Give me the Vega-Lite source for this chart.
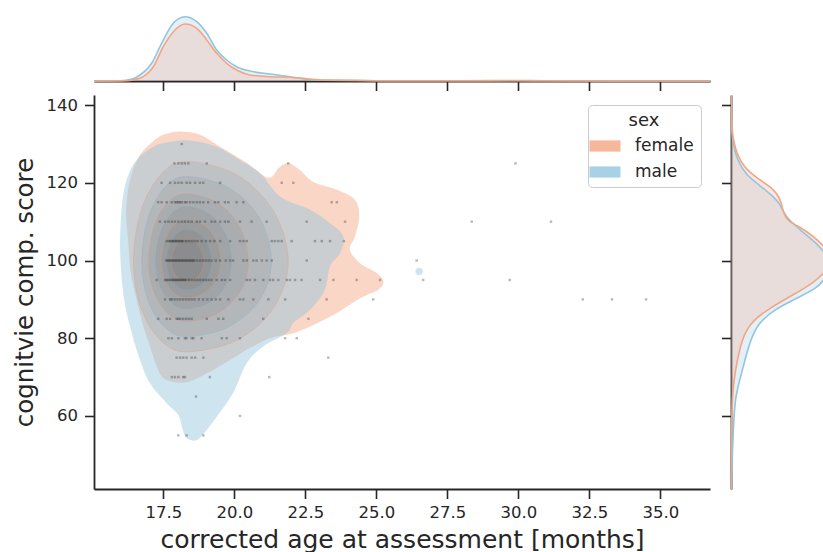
{
"$schema": "https://vega.github.io/schema/vega-lite/v6.json",
"padding": {"left": 12, "top": 11, "right": 0, "bottom": 0},
"config": {
 "font": "DejaVu Sans",
 "view": {"stroke": null},
 "axis": {"domainColor": "#262626", "domainWidth": 1.8, "tickColor": "#262626", "tickWidth": 1.6, "tickSize": 9.5, "labelColor": "#262626", "labelFontSize": 16.5, "labelPadding": 6, "titleColor": "#262626", "titleFontSize": 24.5, "titleFontWeight": "normal", "grid": false},
 "legend": {"titleFontSize": 18, "labelFontSize": 17, "titleFontWeight": "normal", "titleColor": "#262626", "labelColor": "#262626", "titleAnchor": "middle", "padding": 7, "strokeColor": "#cccccc", "fillColor": "rgba(255,255,255,0.8)", "cornerRadius": 4, "orient": "top-right", "offset": 9.5, "symbolType": "M-1.55,-0.56H1.55V0.56H-1.55Z", "symbolSize": 400, "symbolStrokeWidth": 0, "symbolOpacity": 0.8, "labelOffset": 20, "rowPadding": 8, "titlePadding": 6}
},
"datasets": {
 "outer": [
  {"sex":"female","i":1,"age":18.09,"score":133.2},{"sex":"female","i":2,"age":18.79,"score":132.4},{"sex":"female","i":3,"age":19.5,"score":129.3},{"sex":"female","i":4,"age":20.38,"score":125.4},{"sex":"female","i":5,"age":21.19,"score":121.3},{"sex":"female","i":6,"age":21.57,"score":123.9},{"sex":"female","i":7,"age":21.89,"score":125.1},{"sex":"female","i":8,"age":22.31,"score":123.3},{"sex":"female","i":9,"age":22.77,"score":120.3},{"sex":"female","i":10,"age":23.61,"score":118.2},{"sex":"female","i":11,"age":24.25,"score":115.6},{"sex":"female","i":12,"age":24.4,"score":111.3},{"sex":"female","i":13,"age":24.25,"score":106.2},{"sex":"female","i":14,"age":24.07,"score":102.8},{"sex":"female","i":15,"age":24.43,"score":99.3},{"sex":"female","i":16,"age":25.01,"score":96.8},{"sex":"female","i":17,"age":25.25,"score":94.6},{"sex":"female","i":18,"age":25.07,"score":92.5},{"sex":"female","i":19,"age":24.43,"score":90.3},{"sex":"female","i":20,"age":23.61,"score":86.5},{"sex":"female","i":21,"age":22.67,"score":83.0},{"sex":"female","i":22,"age":22.08,"score":81.3},{"sex":"female","i":23,"age":21.26,"score":80.0},{"sex":"female","i":24,"age":20.55,"score":77.5},{"sex":"female","i":25,"age":19.85,"score":74.4},{"sex":"female","i":26,"age":19.14,"score":71.4},{"sex":"female","i":27,"age":18.44,"score":68.9},{"sex":"female","i":28,"age":17.97,"score":68.6},{"sex":"female","i":29,"age":17.5,"score":69.7},{"sex":"female","i":30,"age":17.27,"score":72.7},{"sex":"female","i":31,"age":17.03,"score":77.9},{"sex":"female","i":32,"age":16.8,"score":83.0},{"sex":"female","i":33,"age":16.56,"score":89.9},{"sex":"female","i":34,"age":16.35,"score":97.0},{"sex":"female","i":35,"age":16.26,"score":105.3},{"sex":"female","i":36,"age":16.19,"score":113.0},{"sex":"female","i":37,"age":16.33,"score":120.8},{"sex":"female","i":38,"age":16.68,"score":127.2},{"sex":"female","i":39,"age":17.21,"score":131.1},{"sex":"female","i":40,"age":17.6,"score":132.6},
  {"sex":"male","i":1,"age":18.44,"score":130.9},{"sex":"male","i":2,"age":19.38,"score":129.3},{"sex":"male","i":3,"age":20.2,"score":125.9},{"sex":"male","i":4,"age":20.91,"score":122.5},{"sex":"male","i":5,"age":21.61,"score":116.5},{"sex":"male","i":6,"age":22.67,"score":113.1},{"sex":"male","i":7,"age":23.38,"score":109.6},{"sex":"male","i":8,"age":23.84,"score":106.2},{"sex":"male","i":9,"age":23.72,"score":101.9},{"sex":"male","i":10,"age":23.37,"score":98.5},{"sex":"male","i":11,"age":23.19,"score":92.5},{"sex":"male","i":12,"age":22.67,"score":87.3},{"sex":"male","i":13,"age":22.08,"score":83.9},{"sex":"male","i":14,"age":21.85,"score":81.3},{"sex":"male","i":15,"age":21.02,"score":77.9},{"sex":"male","i":16,"age":20.44,"score":73.6},{"sex":"male","i":17,"age":19.96,"score":65.9},{"sex":"male","i":18,"age":19.38,"score":59.8},{"sex":"male","i":19,"age":19.03,"score":56.4},{"sex":"male","i":20,"age":18.68,"score":53.8},{"sex":"male","i":21,"age":18.32,"score":54.3},{"sex":"male","i":22,"age":18.15,"score":57.3},{"sex":"male","i":23,"age":18.03,"score":60.3},{"sex":"male","i":24,"age":17.62,"score":63.3},{"sex":"male","i":25,"age":17.03,"score":68.4},{"sex":"male","i":26,"age":16.68,"score":74.4},{"sex":"male","i":27,"age":16.33,"score":83.0},{"sex":"male","i":28,"age":16.09,"score":91.6},{"sex":"male","i":29,"age":15.98,"score":102.8},{"sex":"male","i":30,"age":16.04,"score":113.9},{"sex":"male","i":31,"age":16.21,"score":120.8},{"sex":"male","i":32,"age":16.56,"score":125.9},{"sex":"male","i":33,"age":17.15,"score":129.3},{"sex":"male","i":34,"age":17.74,"score":130.6}
 ],
 "inner": [
  {"sex":"female","lvl":1,"i":0,"age":21.9,"score":99.7},{"sex":"female","lvl":1,"i":1,"age":21.4,"score":112.5},{"sex":"female","lvl":1,"i":2,"age":20.1,"score":122.0},{"sex":"female","lvl":1,"i":3,"age":18.32,"score":125.5},{"sex":"female","lvl":1,"i":4,"age":17.4,"score":122.0},{"sex":"female","lvl":1,"i":5,"age":16.7,"score":112.5},{"sex":"female","lvl":1,"i":6,"age":16.45,"score":99.7},{"sex":"female","lvl":1,"i":7,"age":16.7,"score":88.0},{"sex":"female","lvl":1,"i":8,"age":17.4,"score":79.5},{"sex":"female","lvl":1,"i":9,"age":18.32,"score":76.5},{"sex":"female","lvl":1,"i":10,"age":20.1,"score":79.5},{"sex":"female","lvl":1,"i":11,"age":21.4,"score":88.0},
  {"sex":"male","lvl":2,"i":0,"age":21.31,"score":99.7},{"sex":"male","lvl":2,"i":1,"age":20.91,"score":110.65},{"sex":"male","lvl":2,"i":2,"age":19.82,"score":118.67},{"sex":"male","lvl":2,"i":3,"age":18.32,"score":121.6},{"sex":"male","lvl":2,"i":4,"age":17.53,"score":118.67},{"sex":"male","lvl":2,"i":5,"age":16.95,"score":110.65},{"sex":"male","lvl":2,"i":6,"age":16.74,"score":99.7},{"sex":"male","lvl":2,"i":7,"age":16.95,"score":90.05},{"sex":"male","lvl":2,"i":8,"age":17.53,"score":82.99},{"sex":"male","lvl":2,"i":9,"age":18.32,"score":80.4},{"sex":"male","lvl":2,"i":10,"age":19.82,"score":82.99},{"sex":"male","lvl":2,"i":11,"age":20.91,"score":90.05},
  {"sex":"female","lvl":3,"i":0,"age":20.5,"score":99.7},{"sex":"female","lvl":3,"i":1,"age":20.21,"score":108.45},{"sex":"female","lvl":3,"i":2,"age":19.41,"score":114.86},{"sex":"female","lvl":3,"i":3,"age":18.32,"score":117.2},{"sex":"female","lvl":3,"i":4,"age":17.65,"score":114.86},{"sex":"female","lvl":3,"i":5,"age":17.16,"score":108.45},{"sex":"female","lvl":3,"i":6,"age":16.98,"score":99.7},{"sex":"female","lvl":3,"i":7,"age":17.16,"score":92.0},{"sex":"female","lvl":3,"i":8,"age":17.65,"score":86.36},{"sex":"female","lvl":3,"i":9,"age":18.32,"score":84.3},{"sex":"female","lvl":3,"i":10,"age":19.41,"score":86.36},{"sex":"female","lvl":3,"i":11,"age":20.21,"score":92.0},
  {"sex":"male","lvl":4,"i":0,"age":19.9,"score":99.7},{"sex":"male","lvl":4,"i":1,"age":19.69,"score":106.8},{"sex":"male","lvl":4,"i":2,"age":19.11,"score":112.0},{"sex":"male","lvl":4,"i":3,"age":18.32,"score":113.9},{"sex":"male","lvl":4,"i":4,"age":17.78,"score":112.0},{"sex":"male","lvl":4,"i":5,"age":17.38,"score":106.8},{"sex":"male","lvl":4,"i":6,"age":17.23,"score":99.7},{"sex":"male","lvl":4,"i":7,"age":17.38,"score":93.65},{"sex":"male","lvl":4,"i":8,"age":17.78,"score":89.22},{"sex":"male","lvl":4,"i":9,"age":18.32,"score":87.6},{"sex":"male","lvl":4,"i":10,"age":19.11,"score":89.22},{"sex":"male","lvl":4,"i":11,"age":19.69,"score":93.65},
  {"sex":"female","lvl":5,"i":0,"age":19.52,"score":99.7},{"sex":"female","lvl":5,"i":1,"age":19.36,"score":105.1},{"sex":"female","lvl":5,"i":2,"age":18.92,"score":109.05},{"sex":"female","lvl":5,"i":3,"age":18.32,"score":110.5},{"sex":"female","lvl":5,"i":4,"age":17.88,"score":109.05},{"sex":"female","lvl":5,"i":5,"age":17.56,"score":105.1},{"sex":"female","lvl":5,"i":6,"age":17.44,"score":99.7},{"sex":"female","lvl":5,"i":7,"age":17.56,"score":95.05},{"sex":"female","lvl":5,"i":8,"age":17.88,"score":91.65},{"sex":"female","lvl":5,"i":9,"age":18.32,"score":90.4},{"sex":"female","lvl":5,"i":10,"age":18.92,"score":91.65},{"sex":"female","lvl":5,"i":11,"age":19.36,"score":95.05},
  {"sex":"male","lvl":6,"i":0,"age":19.2,"score":99.7},{"sex":"male","lvl":6,"i":1,"age":19.08,"score":103.8},{"sex":"male","lvl":6,"i":2,"age":18.76,"score":106.8},{"sex":"male","lvl":6,"i":3,"age":18.32,"score":107.9},{"sex":"male","lvl":6,"i":4,"age":17.97,"score":106.8},{"sex":"male","lvl":6,"i":5,"age":17.71,"score":103.8},{"sex":"male","lvl":6,"i":6,"age":17.62,"score":99.7},{"sex":"male","lvl":6,"i":7,"age":17.71,"score":96.1},{"sex":"male","lvl":6,"i":8,"age":17.97,"score":93.46},{"sex":"male","lvl":6,"i":9,"age":18.32,"score":92.5},{"sex":"male","lvl":6,"i":10,"age":18.76,"score":93.46},{"sex":"male","lvl":6,"i":11,"age":19.08,"score":96.1},
  {"sex":"female","lvl":7,"i":0,"age":18.92,"score":99.7},{"sex":"female","lvl":7,"i":1,"age":18.84,"score":102.55},{"sex":"female","lvl":7,"i":2,"age":18.62,"score":104.64},{"sex":"female","lvl":7,"i":3,"age":18.32,"score":105.4},{"sex":"female","lvl":7,"i":4,"age":18.06,"score":104.64},{"sex":"female","lvl":7,"i":5,"age":17.86,"score":102.55},{"sex":"female","lvl":7,"i":6,"age":17.79,"score":99.7},{"sex":"female","lvl":7,"i":7,"age":17.86,"score":97.15},{"sex":"female","lvl":7,"i":8,"age":18.06,"score":95.28},{"sex":"female","lvl":7,"i":9,"age":18.32,"score":94.6},{"sex":"female","lvl":7,"i":10,"age":18.62,"score":95.28},{"sex":"female","lvl":7,"i":11,"age":18.84,"score":97.15}
 ],
 "pts": [
  {"age":18.15,"score":130},
  {"age":17.89,"score":125},{"age":18.03,"score":125},{"age":18.15,"score":125},{"age":18.26,"score":125},{"age":18.38,"score":125},{"age":19.03,"score":125},{"age":21.9,"score":125},{"age":29.9,"score":125},
  {"age":17.44,"score":120},{"age":17.74,"score":120},{"age":17.91,"score":120},{"age":18.03,"score":120},{"age":18.15,"score":120},{"age":18.32,"score":120},{"age":18.44,"score":120},{"age":18.62,"score":120},{"age":18.79,"score":120},{"age":18.91,"score":120},{"age":19.5,"score":120},{"age":21.67,"score":120},{"age":22.08,"score":120},
  {"age":17.32,"score":115},{"age":17.44,"score":115},{"age":17.62,"score":115},{"age":17.8,"score":115},{"age":17.91,"score":115},{"age":17.97,"score":115},{"age":18.03,"score":115},{"age":18.09,"score":115},{"age":18.15,"score":115},{"age":18.26,"score":115},{"age":18.32,"score":115},{"age":18.44,"score":115},{"age":18.56,"score":115},{"age":18.68,"score":115},{"age":18.79,"score":115},{"age":18.91,"score":115},{"age":19.08,"score":115},{"age":19.32,"score":115},{"age":19.44,"score":115},{"age":19.67,"score":115},{"age":19.79,"score":115},{"age":20.08,"score":115},{"age":20.32,"score":115},{"age":23.43,"score":115},{"age":23.61,"score":115},
  {"age":17.38,"score":110},{"age":17.56,"score":110},{"age":17.68,"score":110},{"age":17.8,"score":110},{"age":17.91,"score":110},{"age":18.03,"score":110},{"age":18.15,"score":110},{"age":18.26,"score":110},{"age":18.38,"score":110},{"age":18.5,"score":110},{"age":18.68,"score":110},{"age":18.79,"score":110},{"age":18.97,"score":110},{"age":19.2,"score":110},{"age":19.32,"score":110},{"age":19.5,"score":110},{"age":19.67,"score":110},{"age":19.79,"score":110},{"age":20.2,"score":110},{"age":20.61,"score":110},{"age":21.14,"score":110},{"age":22.55,"score":110},{"age":23.9,"score":110},{"age":28.36,"score":110},{"age":31.15,"score":110},
  {"age":17.62,"score":105},{"age":17.7,"score":105},{"age":17.75,"score":105},{"age":17.8,"score":105},{"age":17.85,"score":105},{"age":17.9,"score":105},{"age":17.95,"score":105},{"age":18.0,"score":105},{"age":18.05,"score":105},{"age":18.1,"score":105},{"age":18.15,"score":105},{"age":18.2,"score":105},{"age":18.3,"score":105},{"age":18.4,"score":105},{"age":18.5,"score":105},{"age":18.6,"score":105},{"age":18.7,"score":105},{"age":18.85,"score":105},{"age":19.0,"score":105},{"age":19.15,"score":105},{"age":19.3,"score":105},{"age":19.5,"score":105},{"age":19.85,"score":105},{"age":20.2,"score":105},{"age":20.32,"score":105},{"age":20.44,"score":105},{"age":21.32,"score":105},{"age":21.43,"score":105},{"age":21.55,"score":105},{"age":21.67,"score":105},{"age":22.02,"score":105},{"age":22.84,"score":105},{"age":23.08,"score":105},{"age":23.37,"score":105},{"age":23.86,"score":105},
  {"age":17.6,"score":100},{"age":17.65,"score":100},{"age":17.7,"score":100},{"age":17.75,"score":100},{"age":17.8,"score":100},{"age":17.85,"score":100},{"age":17.9,"score":100},{"age":17.95,"score":100},{"age":18.0,"score":100},{"age":18.05,"score":100},{"age":18.1,"score":100},{"age":18.15,"score":100},{"age":18.2,"score":100},{"age":18.25,"score":100},{"age":18.3,"score":100},{"age":18.35,"score":100},{"age":18.4,"score":100},{"age":18.45,"score":100},{"age":18.5,"score":100},{"age":18.55,"score":100},{"age":18.6,"score":100},{"age":18.7,"score":100},{"age":18.8,"score":100},{"age":18.9,"score":100},{"age":19.0,"score":100},{"age":19.1,"score":100},{"age":19.2,"score":100},{"age":19.35,"score":100},{"age":19.5,"score":100},{"age":19.7,"score":100},{"age":19.85,"score":100},{"age":19.96,"score":100},{"age":20.32,"score":100},{"age":20.44,"score":100},{"age":20.67,"score":100},{"age":20.79,"score":100},{"age":20.97,"score":100},{"age":21.14,"score":100},{"age":21.32,"score":100},{"age":22.55,"score":100},{"age":26.42,"score":100},
  {"age":17.27,"score":95},{"age":17.56,"score":95},{"age":17.62,"score":95},{"age":17.68,"score":95},{"age":17.74,"score":95},{"age":17.8,"score":95},{"age":17.85,"score":95},{"age":17.9,"score":95},{"age":17.95,"score":95},{"age":18.0,"score":95},{"age":18.05,"score":95},{"age":18.1,"score":95},{"age":18.15,"score":95},{"age":18.2,"score":95},{"age":18.25,"score":95},{"age":18.3,"score":95},{"age":18.4,"score":95},{"age":18.5,"score":95},{"age":18.6,"score":95},{"age":18.7,"score":95},{"age":18.8,"score":95},{"age":18.9,"score":95},{"age":19.0,"score":95},{"age":19.1,"score":95},{"age":19.2,"score":95},{"age":19.38,"score":95},{"age":19.56,"score":95},{"age":19.67,"score":95},{"age":19.85,"score":95},{"age":20.44,"score":95},{"age":20.55,"score":95},{"age":20.73,"score":95},{"age":21.02,"score":95},{"age":21.26,"score":95},{"age":21.37,"score":95},{"age":21.55,"score":95},{"age":21.85,"score":95},{"age":21.96,"score":95},{"age":22.14,"score":95},{"age":22.37,"score":95},{"age":23.02,"score":95},{"age":23.49,"score":95},{"age":24.31,"score":95},{"age":25.13,"score":95},{"age":26.65,"score":95},{"age":29.7,"score":95},
  {"age":17.56,"score":90},{"age":17.74,"score":90},{"age":17.8,"score":90},{"age":17.9,"score":90},{"age":18.0,"score":90},{"age":18.1,"score":90},{"age":18.2,"score":90},{"age":18.3,"score":90},{"age":18.4,"score":90},{"age":18.5,"score":90},{"age":18.6,"score":90},{"age":18.75,"score":90},{"age":18.9,"score":90},{"age":19.05,"score":90},{"age":19.2,"score":90},{"age":19.35,"score":90},{"age":19.5,"score":90},{"age":19.79,"score":90},{"age":20.2,"score":90},{"age":20.32,"score":90},{"age":20.67,"score":90},{"age":21.2,"score":90},{"age":21.79,"score":90},{"age":23.25,"score":90},{"age":24.89,"score":90},{"age":32.27,"score":90},{"age":33.3,"score":90},{"age":34.5,"score":90},
  {"age":17.32,"score":85},{"age":17.62,"score":85},{"age":17.74,"score":85},{"age":17.97,"score":85},{"age":18.03,"score":85},{"age":18.1,"score":85},{"age":18.2,"score":85},{"age":18.3,"score":85},{"age":18.4,"score":85},{"age":18.5,"score":85},{"age":19.03,"score":85},{"age":19.44,"score":85},{"age":19.61,"score":85},{"age":21.02,"score":85},{"age":22.61,"score":85},
  {"age":17.68,"score":80},{"age":17.8,"score":80},{"age":18.03,"score":80},{"age":18.26,"score":80},{"age":18.32,"score":80},{"age":18.5,"score":80},{"age":18.56,"score":80},{"age":18.85,"score":80},{"age":19.56,"score":80},{"age":19.73,"score":80},{"age":20.2,"score":80},{"age":21.79,"score":80},{"age":22.2,"score":80},
  {"age":17.97,"score":75},{"age":18.09,"score":75},{"age":18.2,"score":75},{"age":18.32,"score":75},{"age":18.5,"score":75},{"age":18.62,"score":75},{"age":18.91,"score":75},{"age":23.31,"score":75},
  {"age":17.8,"score":70},{"age":17.91,"score":70},{"age":18.03,"score":70},{"age":18.2,"score":70},{"age":18.26,"score":70},{"age":19.14,"score":70},{"age":21.23,"score":70},
  {"age":18.65,"score":65},{"age":20.2,"score":60},
  {"age":18.03,"score":55},{"age":18.32,"score":55},{"age":18.91,"score":55}
 ],
 "topkde": [
  {"sex":"male","age":15.06,"dens":0},{"sex":"male","age":15.98,"dens":0.2},{"sex":"male","age":16.4,"dens":2},{"sex":"male","age":16.68,"dens":6},{"sex":"male","age":17.09,"dens":17.7},{"sex":"male","age":17.44,"dens":37.7},{"sex":"male","age":17.85,"dens":57.7},{"sex":"male","age":18.26,"dens":64.3},{"sex":"male","age":18.68,"dens":59.3},{"sex":"male","age":19.03,"dens":47.7},{"sex":"male","age":19.38,"dens":31},{"sex":"male","age":19.73,"dens":21},{"sex":"male","age":20.08,"dens":14.3},{"sex":"male","age":20.55,"dens":10},{"sex":"male","age":21.26,"dens":7},{"sex":"male","age":21.96,"dens":4.3},{"sex":"male","age":22.55,"dens":1.7},{"sex":"male","age":23.13,"dens":0.7},{"sex":"male","age":25,"dens":0.3},{"sex":"male","age":30,"dens":0.2},{"sex":"male","age":36.75,"dens":0},
  {"sex":"female","age":15.06,"dens":0},{"sex":"female","age":16.21,"dens":0.2},{"sex":"female","age":16.5,"dens":1.5},{"sex":"female","age":16.8,"dens":4.3},{"sex":"female","age":17.15,"dens":14.3},{"sex":"female","age":17.5,"dens":34.3},{"sex":"female","age":17.91,"dens":51},{"sex":"female","age":18.26,"dens":57},{"sex":"female","age":18.68,"dens":52.7},{"sex":"female","age":19.03,"dens":41},{"sex":"female","age":19.38,"dens":27.7},{"sex":"female","age":19.73,"dens":17.7},{"sex":"female","age":20.08,"dens":11},{"sex":"female","age":20.55,"dens":6},{"sex":"female","age":21.26,"dens":4.3},{"sex":"female","age":21.96,"dens":3.7},{"sex":"female","age":22.55,"dens":2.3},{"sex":"female","age":23.13,"dens":1},{"sex":"female","age":24.3,"dens":0.7},{"sex":"female","age":25.25,"dens":0.3},{"sex":"female","age":28,"dens":0.2},{"sex":"female","age":29.9,"dens":0.5},{"sex":"female","age":31,"dens":0.2},{"sex":"female","age":36.75,"dens":0}
 ],
 "rightkde": [
  {"sex":"female","score":41.2,"dens":0},{"sex":"female","score":52.1,"dens":0.2},{"sex":"female","score":60.7,"dens":0.7},{"sex":"female","score":68.4,"dens":2.3},{"sex":"female","score":73.6,"dens":5.7},{"sex":"female","score":79.6,"dens":10.7},{"sex":"female","score":83.9,"dens":19},{"sex":"female","score":87.3,"dens":35.7},{"sex":"female","score":91.2,"dens":62.3},{"sex":"female","score":94.2,"dens":82.3},{"sex":"female","score":97.2,"dens":95},{"sex":"female","score":100,"dens":101},{"sex":"female","score":103.6,"dens":94},{"sex":"female","score":106.2,"dens":82.3},{"sex":"female","score":108.7,"dens":69},{"sex":"female","score":110,"dens":57},{"sex":"female","score":112.2,"dens":52.3},{"sex":"female","score":115.6,"dens":50},{"sex":"female","score":118.6,"dens":42.3},{"sex":"female","score":121.2,"dens":25.7},{"sex":"female","score":124.2,"dens":12.3},{"sex":"female","score":127.6,"dens":5.7},{"sex":"female","score":131,"dens":2.3},{"sex":"female","score":135,"dens":0.5},{"sex":"female","score":142.6,"dens":0},
  {"sex":"male","score":41.2,"dens":0.2},{"sex":"male","score":47.8,"dens":1},{"sex":"male","score":56.4,"dens":2.3},{"sex":"male","score":65,"dens":4},{"sex":"male","score":71,"dens":10.7},{"sex":"male","score":77.9,"dens":17.3},{"sex":"male","score":83.5,"dens":25.7},{"sex":"male","score":87.3,"dens":42.3},{"sex":"male","score":90.7,"dens":69},{"sex":"male","score":92.9,"dens":85.7},{"sex":"male","score":95,"dens":93},{"sex":"male","score":98,"dens":100},{"sex":"male","score":101,"dens":97},{"sex":"male","score":104.5,"dens":85.7},{"sex":"male","score":107.9,"dens":69},{"sex":"male","score":111.3,"dens":54},{"sex":"male","score":114.8,"dens":49},{"sex":"male","score":117,"dens":40},{"sex":"male","score":119.5,"dens":28},{"sex":"male","score":122,"dens":15},{"sex":"male","score":126,"dens":6},{"sex":"male","score":130,"dens":2},{"sex":"male","score":134,"dens":0.5},{"sex":"male","score":142.6,"dens":0}
 ]
},
"spacing": 14,
"bounds": "flush",
"resolve": {"scale": {"fill": "independent", "stroke": "independent"}, "legend": {"fill": "independent", "stroke": "independent"}},
"vconcat": [
 {
  "width": 616, "height": 70,
  "data": {"name": "topkde"},
  "encoding": {
   "x": {"field": "age", "type": "quantitative", "scale": {"domain": [15.06, 36.75], "nice": false, "zero": false}, "axis": {"values": [17.5, 20, 22.5, 25, 27.5, 30, 32.5, 35], "labels": false, "title": null}},
   "y": {"field": "dens", "type": "quantitative", "scale": {"domain": [0, 70]}, "axis": null}
  },
  "layer": [
   {"transform": [{"filter": "datum.sex === 'male'"}], "mark": {"type": "area", "fill": "#92c5de", "fillOpacity": 0.25, "interpolate": "monotone"}},
   {"transform": [{"filter": "datum.sex === 'female'"}], "mark": {"type": "area", "fill": "#f4a582", "fillOpacity": 0.25, "interpolate": "monotone"}},
   {"transform": [{"filter": "datum.sex === 'male'"}], "mark": {"type": "line", "stroke": "#92c5de", "strokeWidth": 1.6, "interpolate": "monotone"}},
   {"transform": [{"filter": "datum.sex === 'female'"}], "mark": {"type": "line", "stroke": "#f4a582", "strokeWidth": 1.6, "interpolate": "monotone"}}
  ]
 },
 {
  "spacing": 21,
  "bounds": "flush",
  "resolve": {"scale": {"fill": "independent", "stroke": "independent"}, "legend": {"fill": "independent", "stroke": "independent"}},
  "hconcat": [
   {
    "width": 616, "height": 394,
    "encoding": {
     "x": {"field": "age", "type": "quantitative", "scale": {"domain": [15.06, 36.75], "nice": false, "zero": false}, "axis": {"values": [17.5, 20, 22.5, 25, 27.5, 30, 32.5, 35], "format": ".1f", "title": "corrected age at assessment [months]", "titlePadding": 6, "titleFontSize": 25}},
     "y": {"field": "score", "type": "quantitative", "scale": {"domain": [41.2, 142.6], "nice": false, "zero": false}, "axis": {"values": [60, 80, 100, 120, 140], "title": "cognitvie comp. score", "titlePadding": 9, "labelPadding": 7}}
    },
    "layer": [
     {"data": {"name": "outer"}, "transform": [{"filter": "datum.sex === 'female'"}],
      "mark": {"type": "line", "interpolate": "cardinal-closed", "fillOpacity": 0.45, "strokeOpacity": 0},
      "encoding": {"order": {"field": "i", "type": "quantitative"},
       "fill": {"field": "sex", "type": "nominal", "scale": {"domain": ["female", "male"], "range": ["#f4a582", "#92c5de"]},
        "legend": {"encode": {"symbols": {"update": {"fill": {"scale": "fill", "field": "value"}, "stroke": {"value": "transparent"}, "strokeWidth": {"value": 0}, "opacity": {"value": 0.8}, "fillOpacity": {"value": 1}}}}}}}},
     {"data": {"name": "outer"}, "transform": [{"filter": "datum.sex === 'male'"}],
      "mark": {"type": "line", "interpolate": "cardinal-closed", "fillOpacity": 0.45, "strokeOpacity": 0},
      "encoding": {"order": {"field": "i", "type": "quantitative"}, "fill": {"field": "sex", "type": "nominal"}}},
     {"data": {"name": "inner"},
      "mark": {"type": "line", "interpolate": "cardinal-closed", "fill": "#3a3530", "fillOpacity": 0.075, "strokeWidth": 0.7, "strokeOpacity": 0.4},
      "encoding": {"order": {"field": "i", "type": "quantitative"}, "detail": {"field": "lvl", "type": "nominal"},
       "stroke": {"field": "sex", "type": "nominal", "scale": {"domain": ["female", "male"], "range": ["#e8906a", "#6aaed0"]}, "legend": null}}},
     {"data": {"values": [{"age": 26.51, "score": 97.2}]},
      "mark": {"type": "circle", "size": 55, "color": "#92c5de", "opacity": 0.45}},
     {"data": {"name": "pts"},
      "mark": {"type": "square", "size": 6, "color": "#1a1a1a", "opacity": 0.3}}
    ]
   },
   {
    "width": 92, "height": 394,
    "data": {"name": "rightkde"},
    "encoding": {
     "y": {"field": "score", "type": "quantitative", "scale": {"domain": [41.2, 142.6], "nice": false, "zero": false}, "axis": {"values": [60, 80, 100, 120, 140], "labels": false, "title": null}},
     "x": {"field": "dens", "type": "quantitative", "scale": {"domain": [0, 92]}, "axis": null}
    },
    "layer": [
     {"transform": [{"filter": "datum.sex === 'male'"}], "mark": {"type": "area", "orient": "horizontal", "fill": "#92c5de", "fillOpacity": 0.25, "interpolate": "basis", "clip": true}},
     {"transform": [{"filter": "datum.sex === 'female'"}], "mark": {"type": "area", "orient": "horizontal", "fill": "#f4a582", "fillOpacity": 0.25, "interpolate": "basis", "clip": true}},
     {"transform": [{"filter": "datum.sex === 'male'"}], "mark": {"type": "line", "stroke": "#92c5de", "strokeWidth": 1.6, "interpolate": "basis", "clip": true}, "encoding": {"order": {"field": "score", "type": "quantitative"}}},
     {"transform": [{"filter": "datum.sex === 'female'"}], "mark": {"type": "line", "stroke": "#f4a582", "strokeWidth": 1.6, "interpolate": "basis", "clip": true}, "encoding": {"order": {"field": "score", "type": "quantitative"}}}
    ]
   }
  ]
 }
]
}
